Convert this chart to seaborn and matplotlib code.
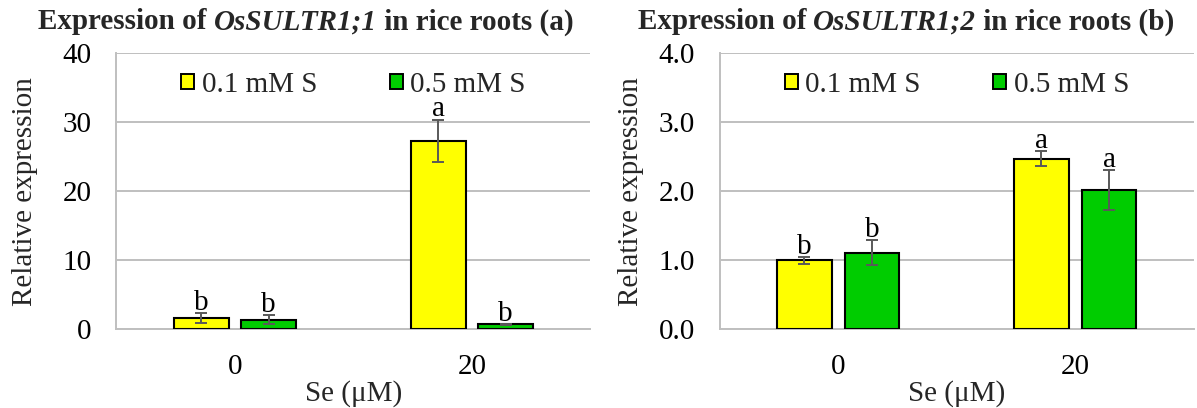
import numpy as np
import pandas as pd
import matplotlib
matplotlib.use("Agg")
import matplotlib.pyplot as plt
from matplotlib.offsetbox import TextArea, HPacker, AnchoredOffsetbox
from matplotlib.ticker import FormatStrFormatter
import seaborn as sns

# ---- data ----
se_levels = ["0", "20"]
s_levels = ["0.1 mM S", "0.5 mM S"]

a_low_s = [1.6, 27.3]      # OsSULTR1;1, 0.1 mM S
a_high_s = [1.4, 0.72]     # OsSULTR1;1, 0.5 mM S
a_low_err = [0.72, 3.1]
a_high_err = [0.65, 0.05]
a_letters_low = ["b", "a"]
a_letters_high = ["b", "b"]

b_low_s = [1.00, 2.47]     # OsSULTR1;2, 0.1 mM S
b_high_s = [1.11, 2.02]    # OsSULTR1;2, 0.5 mM S
b_low_err = [0.05, 0.11]
b_high_err = [0.18, 0.29]
b_letters_low = ["b", "a"]
b_letters_high = ["b", "a"]

a_yticks = [0, 10, 20, 30, 40]
b_yticks = [0.0, 1.0, 2.0, 3.0, 4.0]

colors = ["#FFFF00", "#00CC00"]

sns.set_style("white")
plt.rcParams["font.family"] = ["Liberation Serif", "DejaVu Serif"]
FS = 21

fig = plt.figure(figsize=(11.97, 4.08), dpi=100)
ax1 = fig.add_axes([0.0973, 0.1929, 0.396, 0.6765])
ax2 = fig.add_axes([0.6013, 0.1929, 0.396, 0.6765])


def make_df(low, high):
    rows = []
    for i, se in enumerate(se_levels):
        rows.append({"Se": se, "S": s_levels[0], "value": low[i]})
        rows.append({"Se": se, "S": s_levels[1], "value": high[i]})
    return pd.DataFrame(rows)


def draw(ax, low, high, lerr, herr, llet, hlet, yticks, ylim, fmt, title_parts, title_x, ylab_x):
    df = make_df(low, high)
    sns.barplot(data=df, x="Se", y="value", hue="S", order=se_levels, hue_order=s_levels,
                palette=colors, saturation=1, width=0.57, gap=0.19, edgecolor="black",
                linewidth=1.5, errorbar=None, ax=ax, zorder=3)
    errs = [lerr, herr]
    lets = [llet, hlet]
    bar_conts = list(ax.containers)
    for k, cont in enumerate(bar_conts):
        for j, bar in enumerate(cont.patches):
            cx = bar.get_x() + bar.get_width() / 2
            h = bar.get_height()
            e = errs[k][j]
            ax.errorbar(cx, h, yerr=e, fmt="none", ecolor="#595959", elinewidth=1.4,
                        capsize=4.5, capthick=1.4, zorder=4)
            ax.annotate(lets[k][j], xy=(cx, h + e), xytext=(0, 2.2), textcoords="offset points",
                        ha="center", va="baseline", fontsize=FS, color="black", zorder=5)
    ax.set_ylim(*ylim)
    ax.set_xlim(-0.5, 1.5)
    ax.set_yticks(yticks)
    ax.yaxis.set_major_formatter(FormatStrFormatter(fmt))
    ax.grid(axis="y", color="#BFBFBF", linewidth=1.4, zorder=0)
    ax.set_axisbelow(True)
    for sp in ["top", "right"]:
        ax.spines[sp].set_visible(False)
    for sp in ["left", "bottom"]:
        ax.spines[sp].set_color("#BFBFBF")
        ax.spines[sp].set_linewidth(1.4)
    ax.tick_params(axis="y", length=0, pad=18, labelsize=FS, labelcolor="black")
    ax.tick_params(axis="x", length=4.5, width=1.0, color="#BFBFBF", pad=13.5, labelsize=FS,
                   labelcolor="black")
    ax.set_xticks([-0.5, 1.5], minor=True)
    ax.tick_params(axis="x", which="minor", length=4.5, width=1.0, color="#BFBFBF")
    ax.set_xlabel("Se (μM)", fontsize=FS, labelpad=0)
    ax.set_ylabel("Relative expression", fontsize=FS)
    ax.yaxis.set_label_coords(ylab_x, 0.5)
    leg = ax.legend(loc="center", bbox_to_anchor=(0.5, 0.885), ncol=2, frameon=False,
                    fontsize=FS, handlelength=0.45, handleheight=0.45, handletextpad=0.25,
                    columnspacing=2.5, borderaxespad=0)
    for hnd in leg.legend_handles:
        hnd.set_edgecolor("black")
        hnd.set_linewidth(1.4)

    parts = [TextArea(t, textprops=dict(fontsize=FS, fontweight="bold", fontstyle=st,
                                        family=["Liberation Serif"]))
             for t, st in title_parts]
    box = HPacker(children=parts, align="baseline", pad=0, sep=0)
    anch = AnchoredOffsetbox(loc="center", child=box, frameon=False, pad=0, borderpad=0,
                             bbox_to_anchor=(title_x, 1 - 22 / 408),
                             bbox_transform=fig.transFigure)
    fig.add_artist(anch)


draw(ax1, a_low_s, a_high_s, a_low_err, a_high_err, a_letters_low, a_letters_high,
     a_yticks, (0, 40), "%d",
     [("Expression of ", "normal"), ("OsSULTR1;1", "italic"), (" in rice roots (a)", "normal")],
     306 / 1197, -0.166)
draw(ax2, b_low_s, b_high_s, b_low_err, b_high_err, b_letters_low, b_letters_high,
     b_yticks, (0, 4), "%.1f",
     [("Expression of ", "normal"), ("OsSULTR1;2", "italic"), (" in rice roots (b)", "normal")],
     906 / 1197, -0.16)

fig.savefig("out.png", dpi=100)
